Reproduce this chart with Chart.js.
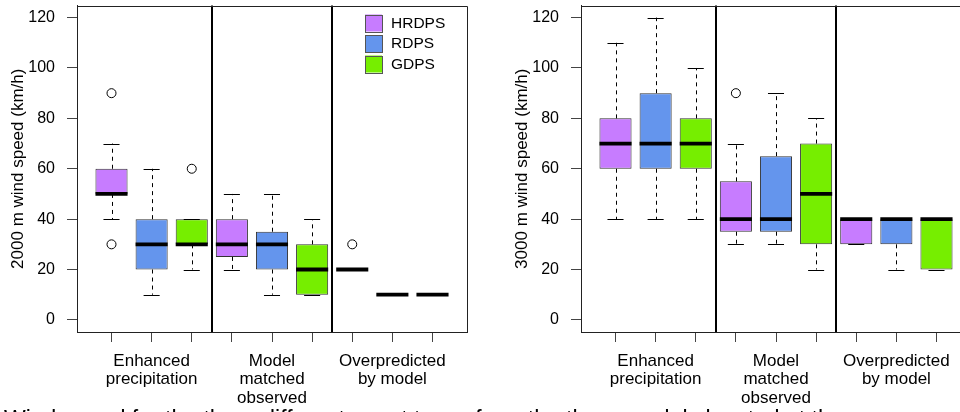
<!DOCTYPE html>
<html>
<head>
<meta charset="utf-8">
<script src="https://cdn.jsdelivr.net/npm/chart.js@4.4.1/dist/chart.umd.min.js"></script>
<style>
  html, body { margin: 0; padding: 0; background: #fff; }
  body { width: 960px; height: 412px; overflow: hidden; position: relative; font-family: "Liberation Sans", Arial, sans-serif; }
  .panel { position: absolute; top: 0; width: 480px; height: 412px; }
  #caption { position: absolute; left: 4px; top: 408px; font-size: 23px; line-height: 23px; white-space: nowrap; color: #000; }
</style>
</head>
<body>
<div class="panel" style="left:0"><canvas id="chart2000" width="480" height="412"></canvas></div>
<div class="panel" style="left:504px"><canvas id="chart3000" width="480" height="412"></canvas></div>
<div id="caption">Wind speed for the three different event types from the three models located at the</div>
<script>
const models = ['HRDPS', 'RDPS', 'GDPS'];
const modelColors = ['#C77CFF', '#6495ED', '#76EE00'];
const groupLabels = [['Enhanced', 'precipitation'], ['Model', 'matched', 'observed'], ['Overpredicted', 'by model']];
const yTicks = [0, 20, 40, 60, 80, 100, 120];
const boxPositions = [1, 2, 3, 4, 5, 6, 7, 8, 9];

// one entry per event type: [lower whisker, Q1, median, Q3, upper whisker]
const hrdps2000 = [[40, 50, 50, 60, 70], [20, 25, 30, 40, 50], [20, 20, 20, 20, 20]];
const rdps2000 = [[10, 20, 30, 40, 60], [10, 20, 30, 35, 50], [10, 10, 10, 10, 10]];
const gdps2000 = [[20, 30, 30, 40, 40], [10, 10, 20, 30, 40], [10, 10, 10, 10, 10]];
const hrdps2000Out = [[30, 90], [], [30]];
const rdps2000Out = [[], [], []];
const gdps2000Out = [[60], [], []];

const hrdps3000 = [[40, 60, 70, 80, 110], [30, 35, 40, 55, 70], [30, 30, 40, 40, 40]];
const rdps3000 = [[40, 60, 70, 90, 120], [30, 35, 40, 65, 90], [20, 30, 40, 40, 40]];
const gdps3000 = [[40, 60, 70, 80, 100], [20, 30, 50, 70, 80], [20, 20, 40, 40, 40]];
const hrdps3000Out = [[], [90], []];
const rdps3000Out = [[], [], []];
const gdps3000Out = [[], [], []];

Chart.defaults.font.family = '"Liberation Sans", Arial, sans-serif';
Chart.defaults.color = '#000';

const crisp = v => Math.round(v) + 0.5;

// whiskers, staples, medians, group separators and the rest of the frame
const boxParts = {
  id: 'boxParts',
  afterDatasetsDraw(chart) {
    const { ctx, chartArea: a, scales: { x, y } } = chart;
    ctx.save();
    chart.data.datasets.forEach(ds => {
      if (ds.type !== 'bar') return;
      ds.data.forEach(d => {
        const [lo, q1, med, q3, hi] = d.stats;
        const cx = x.getPixelForValue(d.x);
        const half = x.getPixelForValue(d.x + 0.4) - cx;
        const cap = half / 2;
        const px = crisp(cx);
        ctx.strokeStyle = '#000';
        ctx.lineWidth = 1;
        ctx.setLineDash([4, 4]);
        ctx.beginPath();
        if (hi > q3) { ctx.moveTo(px, y.getPixelForValue(q3)); ctx.lineTo(px, y.getPixelForValue(hi)); }
        if (lo < q1) { ctx.moveTo(px, y.getPixelForValue(q1)); ctx.lineTo(px, y.getPixelForValue(lo)); }
        ctx.stroke();
        ctx.setLineDash([]);
        ctx.beginPath();
        [lo, hi].forEach(v => {
          const py = crisp(y.getPixelForValue(v));
          ctx.moveTo(cx - cap, py);
          ctx.lineTo(cx + cap, py);
        });
        ctx.stroke();
        ctx.lineWidth = 3.8;
        ctx.beginPath();
        const my = y.getPixelForValue(med);
        ctx.moveTo(cx - half, my);
        ctx.lineTo(cx + half, my);
        ctx.stroke();
      });
    });
    ctx.strokeStyle = '#000';
    ctx.lineWidth = 2;
    ctx.beginPath();
    [3.5, 6.5].forEach(v => {
      const sx = Math.round(x.getPixelForValue(v));
      ctx.moveTo(sx, a.top);
      ctx.lineTo(sx, a.bottom);
    });
    ctx.stroke();
    ctx.strokeStyle = '#222';
    ctx.lineWidth = 1;
    ctx.beginPath();
    ctx.moveTo(a.left, crisp(a.top));
    ctx.lineTo(crisp(a.right), crisp(a.top));
    ctx.lineTo(crisp(a.right), a.bottom);
    ctx.stroke();
    ctx.restore();
  }
};

const boxLegend = {
  id: 'boxLegend',
  afterDraw(chart, args, opts) {
    if (!opts.display) return;
    const { ctx, chartArea: a } = chart;
    const left = a.right - 102;
    ctx.save();
    ctx.font = '15.5px "Liberation Sans", Arial, sans-serif';
    ctx.textBaseline = 'middle';
    chart.data.datasets.filter(ds => ds.type === 'bar').forEach((ds, i) => {
      const top = a.top + 9 + i * 20.5;
      ctx.fillStyle = ds.backgroundColor;
      ctx.fillRect(left, top, 17, 17);
      ctx.strokeStyle = '#555';
      ctx.lineWidth = 1;
      ctx.strokeRect(crisp(left), crisp(top), 17, 17);
      ctx.fillStyle = '#000';
      ctx.fillText(ds.label, left + 26, top + 9);
    });
    ctx.restore();
  }
};

function buildChart(canvasId, yTitle, stats, outliers, showLegend) {
  const datasets = models.map((name, m) => ({
    type: 'bar',
    label: name,
    data: stats[m].map((s, g) => ({ x: boxPositions[g * 3 + m], y: [s[1], s[3]], stats: s })),
    backgroundColor: modelColors[m],
    borderColor: '#333',
    borderWidth: 1,
    borderSkipped: false,
    grouped: false,
    barPercentage: 0.8,
    categoryPercentage: 1
  }));

  const outlierPoints = [];
  models.forEach((name, m) => {
    outliers[m].forEach((vals, g) => {
      vals.forEach(v => outlierPoints.push({ x: boxPositions[g * 3 + m], y: v }));
    });
  });
  datasets.push({
    type: 'scatter',
    label: 'outliers',
    data: outlierPoints,
    pointRadius: 4.5,
    pointBorderWidth: 1,
    pointBorderColor: '#000',
    pointBackgroundColor: 'rgba(0,0,0,0)'
  });

  return new Chart(document.getElementById(canvasId), {
    type: 'bar',
    data: { datasets: datasets },
    options: {
      responsive: false,
      animation: false,
      layout: { padding: { top: 5, right: 13, left: 0, bottom: 0 } },
      plugins: {
        legend: { display: false },
        tooltip: { enabled: false },
        boxLegend: { display: showLegend }
      },
      scales: {
        x: {
          type: 'linear',
          offset: false,
          min: 0.14,
          max: 9.86,
          afterBuildTicks: s => { s.ticks = boxPositions.map(v => ({ value: v })); },
          afterFit: s => { s.height = 80; s.paddingLeft = 0; s.paddingRight = 0; },
          ticks: {
            autoSkip: false,
            maxRotation: 0,
            padding: 10,
            color: '#000',
            font: { size: 17, lineHeight: 1.09 },
            callback: v => (v - 2) % 3 === 0 ? groupLabels[(v - 2) / 3] : ''
          },
          grid: { offset: false, drawOnChartArea: false, tickLength: 10, color: '#444' },
          border: { color: '#222' }
        },
        y: {
          min: -4.8,
          max: 124.8,
          afterBuildTicks: s => { s.ticks = yTicks.map(v => ({ value: v })); },
          afterFit: s => { s.width = 77; s.paddingTop = 0; s.paddingBottom = 0; },
          ticks: { padding: 12, color: '#000', font: { size: 16 } },
          grid: { drawOnChartArea: false, tickLength: 10, color: '#444' },
          border: { color: '#222' },
          title: { display: true, text: yTitle, color: '#000', font: { size: 17 }, padding: { top: 8, bottom: 0 } }
        }
      }
    },
    plugins: [boxParts, boxLegend]
  });
}

buildChart('chart2000', '2000 m wind speed (km/h)',
  [hrdps2000, rdps2000, gdps2000], [hrdps2000Out, rdps2000Out, gdps2000Out], true);
buildChart('chart3000', '3000 m wind speed (km/h)',
  [hrdps3000, rdps3000, gdps3000], [hrdps3000Out, rdps3000Out, gdps3000Out], false);
</script>
</body>
</html>
